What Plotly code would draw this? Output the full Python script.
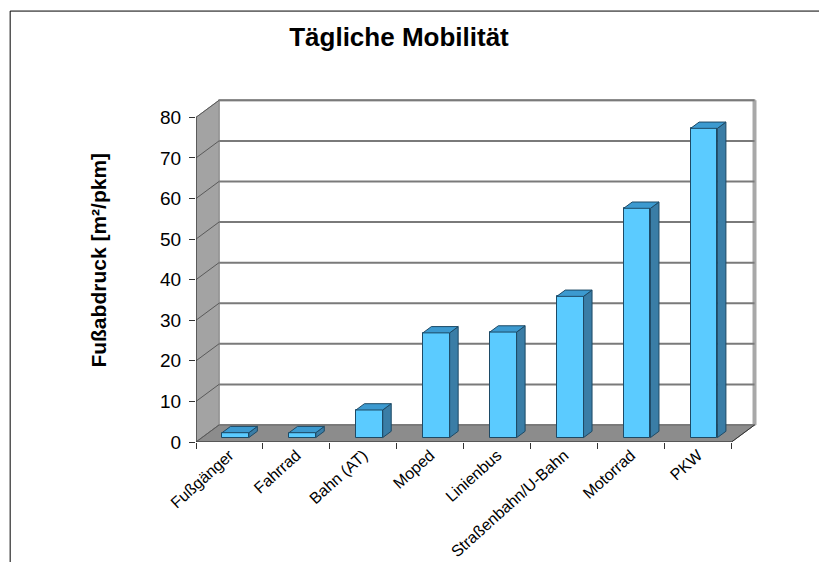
import plotly.graph_objects as go

categories = ["Fußgänger", "Fahrrad", "Bahn (AT)", "Moped", "Linienbus",
              "Straßenbahn/U-Bahn", "Motorrad", "PKW"]
values = [1.2, 1.2, 6.8, 25.8, 26.0, 34.8, 56.5, 76.2]
y_ticks = [0, 10, 20, 30, 40, 50, 60, 70, 80]
title_text = "Tägliche Mobilität"
y_title = "Fußabdruck [m²/pkm]"

# ---- geometry / style (not data) ----
W, H = 819, 562
L, R, B = 196, 53.5, 120
XMAX, YMAX = 8.5, 86.0
PW = W - L - R
PXU = PW / XMAX                # px per category unit
PYU = (442 - 117.3) / 80.0     # px per value unit
PH = YMAX * PYU
T = H - B - PH
DX = 23 / PXU                  # wall depth in x units
DY = 17 / PYU                  # wall depth in y units
F0, FD = 0.26, 0.37            # bar front depth fraction, bar depth fraction
BW = 0.40                      # bar width
n = len(categories)
YTOP = y_ticks[-1]

FRONT = "#5BCBFF"
TOP = "#3C9AD0"
SIDE = "#3A7DA6"
EDGE = "#1d4a66"

fig = go.Figure()

shapes = []
# back wall
shapes.append(dict(type="path", xref="x", yref="y", layer="below",
                   path=f"M{DX},{DY} L{n+DX},{DY} L{n+DX},{YTOP+DY} L{DX},{YTOP+DY} Z",
                   fillcolor="white", line=dict(color="#b0b0b0", width=2)))
# back wall right edge thickness
shapes.append(dict(type="line", xref="x", yref="y", layer="below",
                   x0=n+DX, x1=n+DX, y0=DY, y1=YTOP+DY,
                   line=dict(color="#a8a8a8", width=4)))
# side wall
shapes.append(dict(type="path", xref="x", yref="y", layer="below",
                   path=f"M0,0 L0,{YTOP} L{DX},{YTOP+DY} L{DX},{DY} Z",
                   fillcolor="#a3a3a3", line=dict(color="#8c8c8c", width=1)))
# floor
shapes.append(dict(type="path", xref="x", yref="y", layer="below",
                   path=f"M0,0 L{n},0 L{n+DX},{DY} L{DX},{DY} Z",
                   fillcolor="#8c8c8c", line=dict(color="#6e6e6e", width=1)))
# gridlines on back wall and diagonals on the side wall
for v in y_ticks:
    shapes.append(dict(type="line", xref="x", yref="y", layer="below",
                       x0=DX, x1=n+DX, y0=v+DY, y1=v+DY,
                       line=dict(color="#7a7a7a", width=2)))
    shapes.append(dict(type="line", xref="x", yref="y", layer="below",
                       x0=0, x1=DX, y0=v, y1=v+DY,
                       line=dict(color="#5a5a5a", width=1)))
# front axis lines
shapes.append(dict(type="line", xref="x", yref="y", layer="above",
                   x0=0, x1=0, y0=0, y1=YTOP, line=dict(color="#333333", width=1.2)))
shapes.append(dict(type="line", xref="x", yref="y", layer="above",
                   x0=0, x1=n, y0=0, y1=0, line=dict(color="#333333", width=1.2)))
shapes.append(dict(type="line", xref="x", yref="y", layer="above",
                   x0=n, x1=n+DX, y0=0, y1=DY, line=dict(color="#333333", width=1)))
# outer chart frame (partly outside the window)
def px_to_paper_x(px):
    return (px - L) / PW
def px_to_paper_y(py):
    return (H - B - py) / PH
shapes.append(dict(type="rect", xref="paper", yref="paper", layer="below",
                   x0=px_to_paper_x(10), x1=px_to_paper_x(W + 20),
                   y0=px_to_paper_y(H + 20), y1=px_to_paper_y(11),
                   line=dict(color="black", width=1), fillcolor="rgba(0,0,0,0)"))

# bars: front faces
centers = [i + 0.5 + F0 * DX for i in range(n)]
base = F0 * DY
fig.add_trace(go.Bar(x=centers, y=values, base=[base] * n, width=BW,
                     marker=dict(color=FRONT, line=dict(color=EDGE, width=1)),
                     showlegend=False, hoverinfo="skip"))

ddx, ddy = FD * DX, FD * DY
for c, v in zip(centers, values):
    xl, xr = c - BW / 2, c + BW / 2
    top = base + v
    # side face
    fig.add_trace(go.Scatter(x=[xr, xr, xr + ddx, xr + ddx, xr],
                             y=[base, top, top + ddy, base + ddy, base],
                             mode="lines", fill="toself", fillcolor=SIDE,
                             line=dict(color=EDGE, width=1),
                             showlegend=False, hoverinfo="skip"))
    # top face
    fig.add_trace(go.Scatter(x=[xl, xr, xr + ddx, xl + ddx, xl],
                             y=[top, top, top + ddy, top + ddy, top],
                             mode="lines", fill="toself", fillcolor=TOP,
                             line=dict(color=EDGE, width=1),
                             showlegend=False, hoverinfo="skip"))

FONT = "Liberation Sans, Arial, sans-serif"
fig.update_layout(
    width=W, height=H,
    margin=dict(l=L, r=R, t=T, b=B, autoexpand=False),
    paper_bgcolor="white", plot_bgcolor="rgba(0,0,0,0)",
    shapes=shapes,
    bargap=0,
    font=dict(family=FONT, color="black"),
    title=dict(text=f"<b>{title_text}</b>", x=399 / W, xanchor="center",
               y=1 - 37 / H, yanchor="middle",
               font=dict(size=26, family=FONT, color="black")),
    annotations=[dict(text=f"<b>{y_title}</b>", textangle=-90, showarrow=False,
                      xref="paper", yref="paper",
                      x=px_to_paper_x(97.5), y=px_to_paper_y(260),
                      xanchor="center", yanchor="middle",
                      font=dict(size=21, family=FONT, color="black"))],
)
fig.update_xaxes(range=[0, XMAX], showgrid=False, zeroline=False, showline=False,
                 automargin=False,
                 tickmode="array", tickvals=[i + 0.5 for i in range(n)], ticktext=categories,
                 ticks="", tickangle=-42, tickfont=dict(size=16),
                 minor=dict(tick0=0, dtick=1, ticks="outside", ticklen=6,
                            tickcolor="#333333", showgrid=False))
fig.update_yaxes(range=[0, YMAX], showgrid=False, zeroline=False, showline=False,
                 automargin=False,
                 tickmode="array", tickvals=y_ticks, ticks="outside", ticklen=6,
                 tickcolor="#333333", tickfont=dict(size=19), ticklabelstandoff=4)

fig.write_html("out.html")
